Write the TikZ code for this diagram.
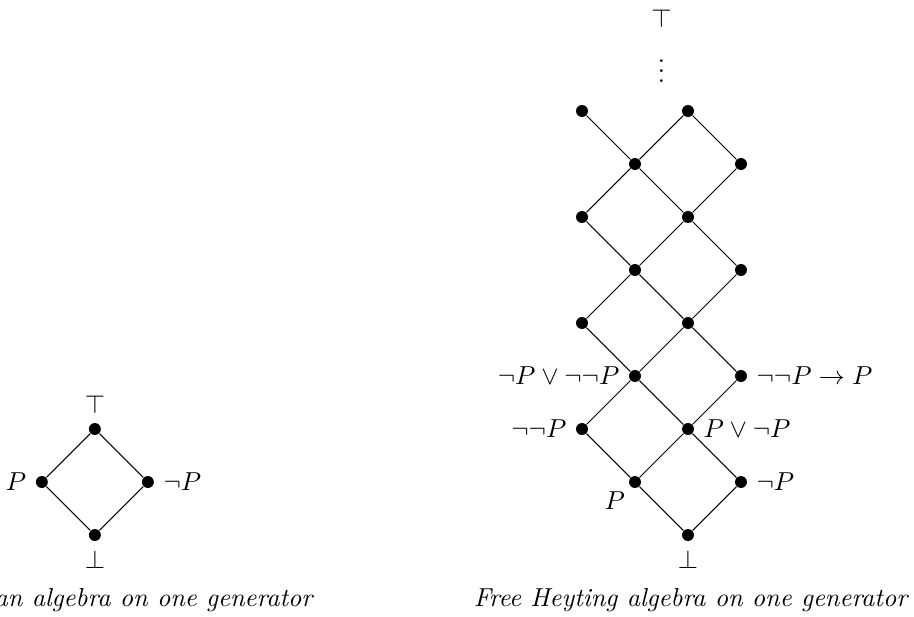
\documentclass[tikz,border=0pt]{standalone}
\usepackage{amsmath,amssymb}
\usetikzlibrary{positioning}
\tikzset{
  elem/.style={circle, fill=black, inner sep=0pt, minimum size=4.6pt},
  hasse/.style={thin, black},
  caption/.style={font=\itshape},
}
\begin{document}
\begin{tikzpicture}[x=0.717cm, y=0.717cm]
    \useasboundingbox (-12.98,-1.528) rectangle (4.264,10.094);

    % Boolean algebra
    \node[elem, label=below:$\bot$] (b0) at (-11.19, 0) {};
    \node[elem, label=left:$P$] (bp) at (-12.19, 1) {};
    \node[elem, label=right:$\neg P$] (bn) at (-10.19, 1) {};
    \node[elem, label=above:$\top$] (b1) at (-11.19, 2) {};
    \node[caption] (bcap) at (-11.19, -1.23) {Free Boolean algebra on one generator};

    \draw[hasse] (b0) -- (bp) -- (b1) -- (bn) -- (b0);

    % Heyting algebra
    \node[elem, label=below:$\bot$] (h0) at (0, 0) {};
    \node[elem, label={[label distance=-2pt]below left:$P$}] (hp) at (-1, 1) {};
    \node[elem, label=right:$\neg P$] (hn) at (1, 1) {};
    \node[elem, label=left:$\neg\neg P$] (hnn) at (-2, 2) {};
    \node[elem, label=right:$P \vee \neg P$] (hpn) at (0, 2) {};
    \node[elem, label=left:$\neg P \vee \neg\neg P$] (hnnn) at (-1, 3) {};
    \node[elem, label=right:$\neg\neg P \to P$] (himp) at (1, 3) {};
    \node[elem] (h4a) at (-2, 4) {};
    \node[elem] (h4b) at (0, 4) {};
    \node[elem] (h5a) at (-1, 5) {};
    \node[elem] (h5b) at (1, 5) {};
    \node[elem] (h6a) at (-2, 6) {};
    \node[elem] (h6b) at (0, 6) {};
    \node[elem] (h7a) at (-1, 7) {};
    \node[elem] (h7b) at (1, 7) {};
    \node[elem] (h8a) at (-2, 8) {};
    \node[elem] (h8b) at (0, 8) {};
    \node (hdots) at (-0.5, 8.9) {$\vdots$};
    \node (htop) at (-0.5, 9.75) {$\top$};
    \node[caption] (hcap) at (0.05, -1.23) {Free Heyting algebra on one generator};

    \draw[hasse] (h0) -- (hp) -- (hnn) -- (hnnn) -- (h4a) -- (h5a) -- (h6a) -- (h7a) -- (h8a);
    \draw[hasse] (h0) -- (hn) -- (hpn) -- (himp) -- (h4b) -- (h5b) -- (h6b) -- (h7b) -- (h8b);
    \draw[hasse] (hp) -- (hpn) -- (hnnn) -- (h4b) -- (h5a) -- (h6b) -- (h7a) -- (h8b);
  \end{tikzpicture}
\end{document}
